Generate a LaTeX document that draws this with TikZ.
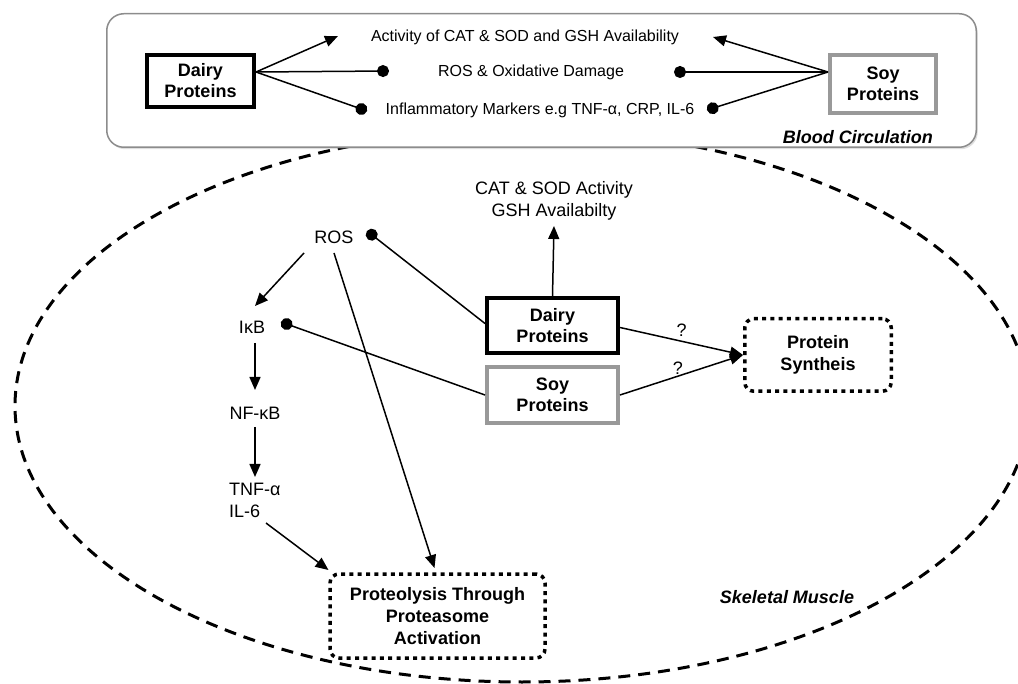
\documentclass[tikz,border=0pt]{standalone}
\usepackage{fontspec}
\setmainfont{Liberation Sans}
\usetikzlibrary{arrows.meta,calc,shadows}

\begin{document}
\begin{tikzpicture}[x=1pt,y=-1pt,
    lbl/.style={inner sep=0pt,font=\fontsize{16}{19}\selectfont},
    ilbl/.style={inner sep=0pt,align=center,font=\fontsize{18}{22}\selectfont},
    dairy/.style={draw,line width=4pt,align=center,font=\bfseries\fontsize{18}{21}\selectfont},
    soy/.style={dairy,draw=black!40},
    proc/.style={draw,line width=3.5pt,dash pattern=on 4pt off 4.3pt,rounded corners=9pt,align=center,font=\bfseries\fontsize{18}{22}\selectfont},
    act/.style={line width=1.5pt,-{Triangle[length=13pt,width=11pt]}},
    inh/.style={line width=1.5pt,-{Circle[length=12pt]}}]
            \useasboundingbox (0,0) rectangle (1018,684);
            \draw[line width=3pt,dash pattern=on 12pt off 8pt] (522,406) ellipse [x radius=507,y radius=276];
            \node[draw=black!45,line width=1.5pt,rounded corners=17pt,fill=white,minimum width=869.5pt,minimum height=133.5pt,drop shadow={shadow xshift=1.5pt,shadow yshift=-2pt,opacity=.25}] (bc) at (541.5,80.5) {};
            \node[dairy,minimum width=107pt,minimum height=52pt] (d1) at (200.5,81) {Dairy\\Proteins};
            \node[soy,minimum width=106pt,minimum height=58pt] (s1) at (883,84) {Soy\\Proteins};
            \node[lbl] (t1) at (525,37) {Activity of CAT \& SOD and GSH Availability};
            \node[lbl] (t2) at (531,72) {ROS \& Oxidative Damage};
            \node[lbl] (t3) at (540,110) {Inflammatory Markers e.g TNF-α, CRP, IL-6};
            \node[ilbl,anchor=east,font=\bfseries\itshape\fontsize{18}{22}\selectfont] (bct) at ($(bc.south east)+(-44,-11)$) {Blood Circulation};
            \foreach \t/\s/\dx/\dy in {t1/act/-187/-1,t2/inh/-142/-1,t3/inh/-173/1}
            \draw[\s] ($(d1.east)+(0,-9)$) -- ($(\t)+(\dx,\dy)$);
            \foreach \t/\s/\dx/\dy in {t1/act/188/0,t2/inh/143/0,t3/inh/167/0}
            \draw[\s] ($(s1.west)+(0,-12)$) -- ($(\t)+(\dx,\dy)$);
            \node[ilbl] (cat) at (554,201) {CAT \& SOD Activity\\GSH Availabilty};
            \node[dairy,minimum width=131pt,minimum height=55pt] (d2) at (552.5,325.5) {Dairy\\Proteins};
            \node[soy,minimum width=131pt,minimum height=56pt] (s2) at ($(d2)+(0,69.5)$) {Soy\\Proteins};
            \node[proc,minimum width=146.5pt,minimum height=72.5pt] (ps) at (818,355) {Protein\\Syntheis};
            \node[proc,minimum width=215pt,minimum height=84pt] (pr) at (437.5,616) {Proteolysis Through\\Proteasome\\Activation};
            \node[ilbl] (ros) at (334,237) {ROS};
            \node[ilbl] (ikb) at (252,327) {IκB};
            \node[ilbl] (nfkb) at ($(ikb)+(3,86)$) {NF-κB};
            \node[ilbl,anchor=west,align=left] (tnf) at (229,500) {TNF-α\\IL-6};
            \node[ilbl,font=\bfseries\itshape\fontsize{18}{22}\selectfont] (sm) at (787,597) {Skeletal Muscle};
            \draw[act] (d2.north) -- ($(cat)+(0,25)$);
            \draw[inh] ($(d2.west)+(0,-2)$) -- ($(ros)+(33,-6)$);
            \draw[inh] (s2.west) -- ($(ikb)+(29,-5)$);
            \draw[act] ($(ros)+(-30,16)$) -- ($(ikb)+(3,-21)$);
            \draw[act] ($(ros)+(0,16)$) -- ($(pr)+(-3,-48)$);
            \draw[act] ($(ikb)+(3,16)$) -- ($(nfkb)+(0,-23)$);
            \draw[act] ($(nfkb)+(0,14)$) -- ($(tnf.west)+(26,-23)$);
            \draw[act] ($(tnf.west)+(37,23)$) -- ($(pr)+(-109,-46)$);
            \draw[act] ($(d2.east)+(0,2)$) -- node[ilbl,above=4pt,pos=.5] (q1) {?} (ps.west);
            \draw[act] (s2.east) -- node[ilbl,above=1pt,pos=.47] (q2) {?} (ps.west);
        \end{tikzpicture}
\end{document}
